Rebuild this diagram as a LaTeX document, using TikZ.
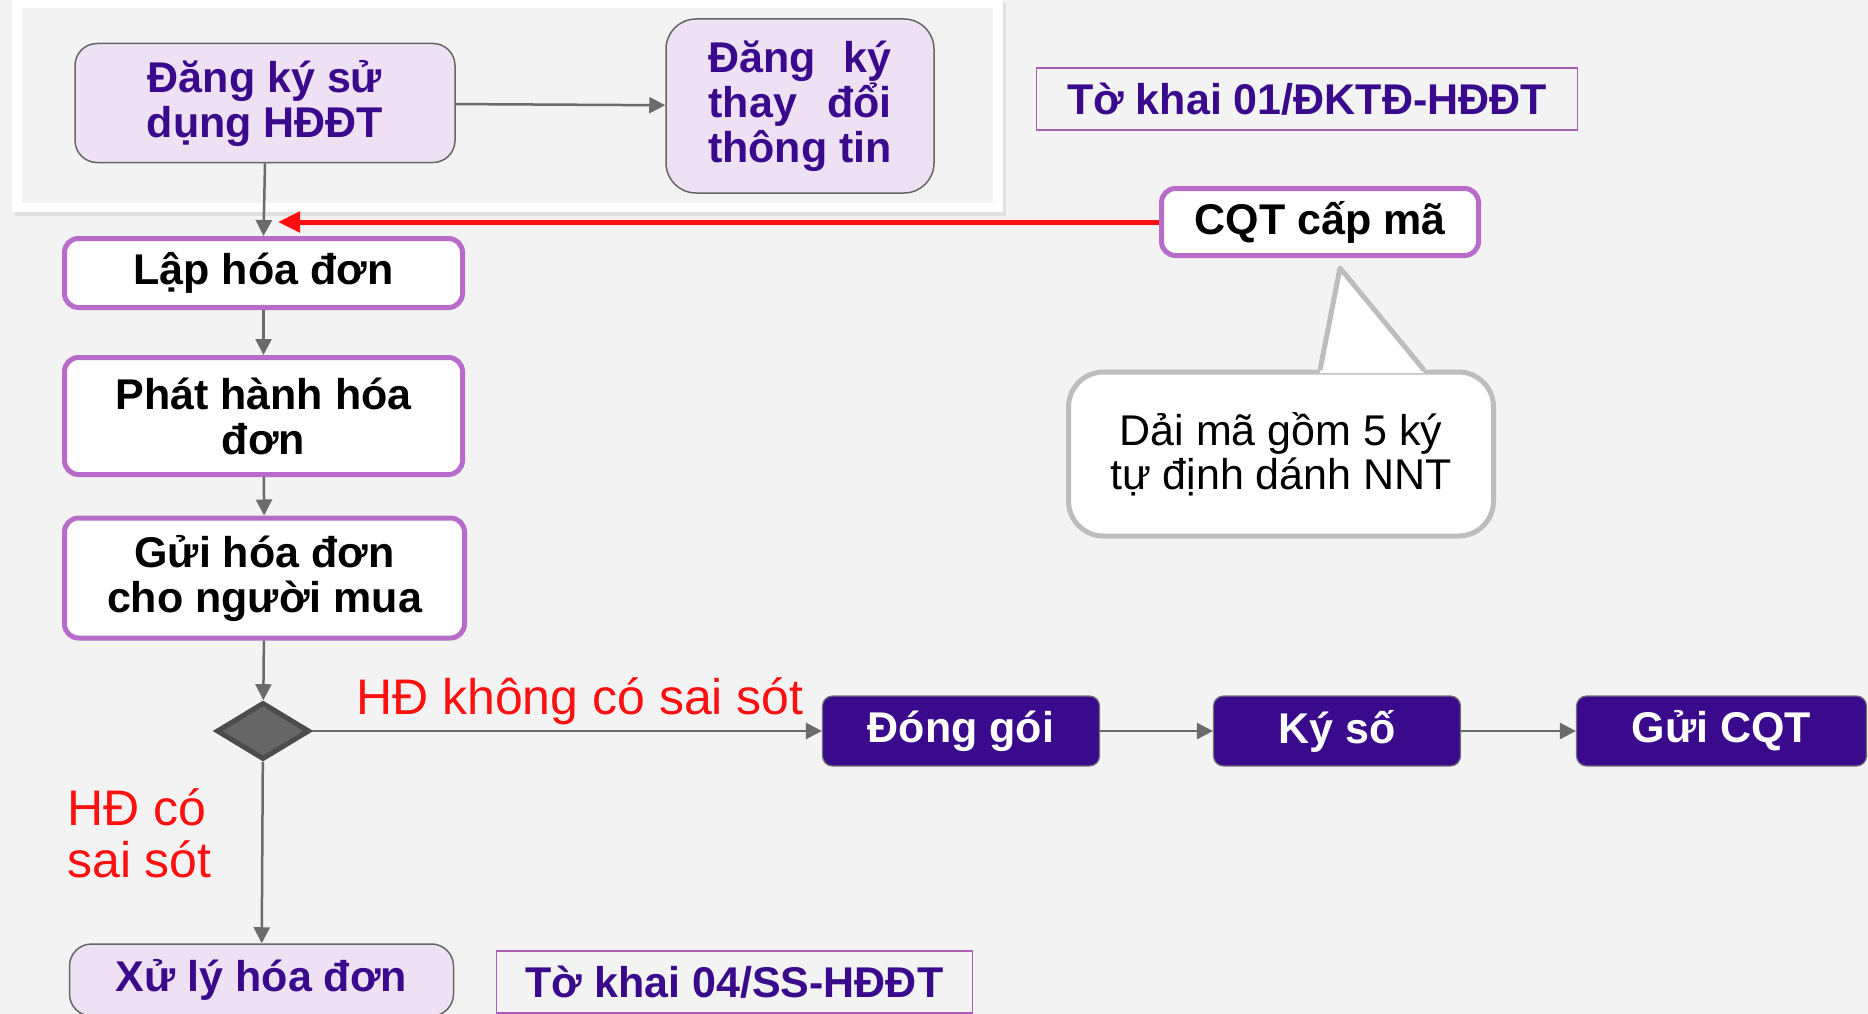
\documentclass[tikz,border=0pt]{standalone}
\usepackage{fontspec}
\setmainfont{Liberation Sans}
\usetikzlibrary{arrows.meta, shapes.geometric, positioning}

\definecolor{bgGray}{HTML}{F3F3F3}
\definecolor{hdPurple}{HTML}{3A0A8C}
\definecolor{hdLav}{HTML}{EEE1F4}
\definecolor{hdOrchid}{HTML}{B86CC9}
\definecolor{connGray}{HTML}{6B6B6B}
\definecolor{noteGray}{HTML}{BDBDBD}
\definecolor{hdRed}{HTML}{FF1010}

\newcommand\boxfont{\fontsize{43}{45}\selectfont\bfseries}
\newcommand\redfont{\fontsize{50}{52}\selectfont}
\newcommand\notefont{\fontsize{43}{44}\selectfont}

\tikzset{
  lavbox/.style={draw=black!60, line width=1.5pt, fill=hdLav, rounded corners=22pt,
    text=hdPurple, font=\boxfont, align=center, inner sep=0pt},
  stepbox/.style={draw=hdOrchid, line width=5pt, fill=white, rounded corners=14pt,
    font=\boxfont, align=center, inner sep=0pt, minimum width=398pt},
  darkbox/.style={draw=black!55, line width=1.2pt, fill=hdPurple, rounded corners=10pt,
    text=white, font=\boxfont, minimum height=70pt, inner sep=0pt},
  formbox/.style={draw=hdOrchid!90!black, line width=1.5pt, text=hdPurple,
    font=\boxfont, minimum height=62pt, inner sep=0pt},
  conn/.style={draw=connGray, line width=2.5pt, -{Triangle[length=16pt,width=16pt]}},
  redlbl/.style={text=hdRed, font=\redfont, align=left, inner sep=0pt},
}

\begin{document}
\begin{tikzpicture}[x=1pt, y=-1pt]
  \useasboundingbox (0,0) rectangle (1868,1014);
  \fill[bgGray] (0,0) rectangle (1868,1014);

  % top panel
  \fill[black!12] (15,3) rectangle (1006,216);
  \fill[white] (12,0) rectangle (1003,212);
  \fill[bgGray] (22,8) rectangle (993,203);

  \node[lavbox, minimum width=380pt, minimum height=119pt] (reg) at (265,103) {Đăng ký sử\\dụng HĐĐT};
  \node[lavbox, rounded corners=30pt, minimum width=268pt, minimum height=174pt] (chg) at (800,106)
    {\makebox[183pt][s]{Đăng ký}\\\makebox[183pt][s]{thay đổi}\\thông tin};
  \node[formbox, minimum width=541pt] (tk1) at (1307,99) {Tờ khai 01/ĐKTĐ-HĐĐT};
  \node[stepbox, minimum width=317pt, minimum height=67pt] (cqt) at (1320,222) {CQT cấp mã};

  % callout
  \node[draw=noteGray, line width=5pt, fill=white, rounded corners=35pt, minimum width=425pt,
    minimum height=164pt, font=\notefont, align=center, inner sep=0pt] (note) at (1281,454)
    {Dải mã gồm 5 ký\\tự định dánh NNT};
  \fill[white] (1320,373) -- (1340,268) -- (1424,373) -- cycle;
  \draw[noteGray, line width=5pt, line join=round] (1320,370) -- (1340,268) -- (1424,370);

  % main column
  \node[stepbox, minimum height=69pt] (lap) at (263.5,273) {Lập hóa đơn};
  \node[stepbox, minimum height=117pt] (issue) at (263.5,416) {Phát hành hóa\\đơn};
  \node[stepbox, minimum width=400pt, minimum height=120pt] (send) at (264.5,578) {Gửi hóa đơn\\cho người mua};
  \node[diamond, draw=black!70, fill=black!60, line width=5pt, minimum width=93pt,
    minimum height=57pt, inner sep=0pt] (dec) at (263,731) {};

  \node[darkbox, minimum width=277pt] (pack) at (961,731) {Đóng gói};
  \node[darkbox, minimum width=247pt] (sign) at (1337,731) {Ký số};
  \node[darkbox, minimum width=290pt] (tocqt) at (1721.5,731) {Gửi CQT};

  \node[lavbox, minimum width=384pt, minimum height=72pt] (fix) at (261.5,980) {Xử lý hóa đơn};
  \node[formbox, minimum width=476pt] (tk4) at (734.5,982) {Tờ khai 04/SS-HĐĐT};

  \node[redlbl, anchor=base] (okl) at (580,714) {HĐ không có sai sót};
  \node[redlbl, anchor=west] (errl) at (67,833) {HĐ có\\sai sót};

  % connectors
  \coordinate (redend) at (278,222);
  \draw[conn] (reg) -- (chg);
  \draw[conn] (reg.south) -- (lap.north);
  \draw[hdRed, line width=5pt, -{Triangle[length=22pt,width=20pt]}] (cqt.west) -- (redend);
  \draw[conn] (lap) -- (issue);
  \draw[conn] (issue) -- (send);
  \draw[conn] (send) -- (dec);
  \draw[conn] (dec) -- (pack);
  \draw[conn] (pack) -- (sign);
  \draw[conn] (sign) -- (tocqt);
  \draw[conn] (dec) -- (fix);
\end{tikzpicture}
\end{document}
